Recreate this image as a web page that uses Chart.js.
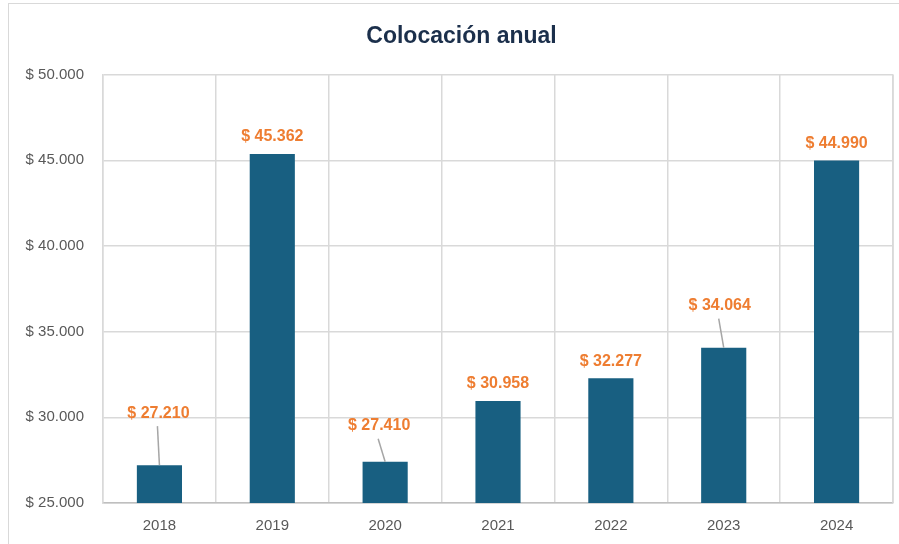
<!DOCTYPE html>
<html>
<head>
<meta charset="utf-8">
<title>Colocación anual</title>
<script src="https://cdn.jsdelivr.net/npm/chart.js@4.4.1/dist/chart.umd.min.js"></script>
<style>
  html, body { margin: 0; padding: 0; background: #ffffff; }
  #wrap { position: relative; width: 899px; height: 544px; overflow: hidden; }
  #frame { position: absolute; left: 8px; top: 3px; width: 1000px; height: 700px;
           border: 1.5px solid #d9d9d9; box-sizing: border-box; }
  canvas { position: absolute; left: 0; top: 0; }
</style>
</head>
<body>
<div id="wrap">
  <div id="frame"></div>
  <canvas id="chart" width="899" height="544"></canvas>
</div>
<script>
// Annual placement totals
const years = ['2018', '2019', '2020', '2021', '2022', '2023', '2024'];
const placements = [27210, 45362, 27410, 30958, 32277, 34064, 44990];
const yTicks = [25000, 30000, 35000, 40000, 45000, 50000];

// Where a value label is pulled away from its bar, [dx, dy] in pixels (drawn with a leader line)
const labelPull = [[-1, -52], null, [-6, -36], null, null, [-4, -42], null];

const fmt = v => '$ ' + v.toLocaleString('de-DE');

const valueLabels = {
  id: 'valueLabels',
  afterDatasetsDraw(chart) {
    const ctx = chart.ctx;
    const meta = chart.getDatasetMeta(0);
    ctx.save();
    ctx.font = 'bold 16px "Liberation Sans", Arial, sans-serif';
    ctx.textAlign = 'center';
    ctx.textBaseline = 'middle';
    meta.data.forEach((bar, i) => {
      const pull = labelPull[i];
      const lx = bar.x + (pull ? pull[0] : 0);
      const ly = bar.y + (pull ? pull[1] : -17);
      if (pull) {
        ctx.strokeStyle = '#a6a6a6';
        ctx.lineWidth = 1.5;
        ctx.beginPath();
        ctx.moveTo(lx - 1, ly + 13);
        ctx.lineTo(bar.x, bar.y);
        ctx.stroke();
      }
      ctx.fillStyle = '#ee7d31';
      ctx.fillText(fmt(placements[i]), lx, ly);
    });
    ctx.restore();
  }
};

// The title is centred over the framed chart box, which starts a little right of the canvas edge
const titleShift = {
  id: 'titleShift',
  afterLayout(chart) {
    if (chart.titleBlock) chart.titleBlock.left += 30;
  }
};

const rightEdge = {
  id: 'rightEdge',
  beforeDatasetsDraw(chart) {
    const a = chart.chartArea, ctx = chart.ctx;
    ctx.save();
    ctx.strokeStyle = '#d9d9d9';
    ctx.lineWidth = 1.5;
    ctx.beginPath();
    ctx.moveTo(a.right, a.top);
    ctx.lineTo(a.right, a.bottom);
    ctx.stroke();
    ctx.restore();
  }
};

new Chart(document.getElementById('chart'), {
  type: 'bar',
  data: {
    labels: years,
    datasets: [{
      data: placements,
      backgroundColor: '#185f81',
      borderWidth: 0,
      barPercentage: 0.4,
      categoryPercentage: 1.0
    }]
  },
  options: {
    responsive: false,
    animation: false,
    layout: { padding: { left: 0, right: 6, top: 0, bottom: 0 } },
    plugins: {
      legend: { display: false },
      tooltip: { enabled: false },
      title: {
        display: true,
        text: 'Colocación anual',
        color: '#1b2f4b',
        font: { family: '"Liberation Sans", Arial, sans-serif', size: 23, weight: 'bold' },
        padding: { top: 23, bottom: 24 }
      }
    },
    scales: {
      x: {
        offset: true,
        grid: { offset: true, color: '#d9d9d9', lineWidth: 1.5, drawTicks: false },
        border: { color: '#bfbfbf', width: 1.5 },
        ticks: {
          color: '#595959',
          padding: 14,
          font: { family: '"Liberation Sans", Arial, sans-serif', size: 15 }
        },
        afterFit(scale) { scale.height = 41; }
      },
      y: {
        min: 25000,
        max: 50000,
        afterBuildTicks(scale) { scale.ticks = yTicks.map(v => ({ value: v })); },
        grid: { color: '#d9d9d9', lineWidth: 1.5, drawTicks: false },
        border: { color: '#d9d9d9', width: 1.5 },
        ticks: {
          color: '#595959',
          padding: 19,
          font: { family: '"Liberation Sans", Arial, sans-serif', size: 15 },
          callback: v => fmt(v)
        },
        afterFit(scale) { scale.width = 103; }
      }
    }
  },
  plugins: [titleShift, valueLabels, rightEdge]
});
</script>
</body>
</html>
